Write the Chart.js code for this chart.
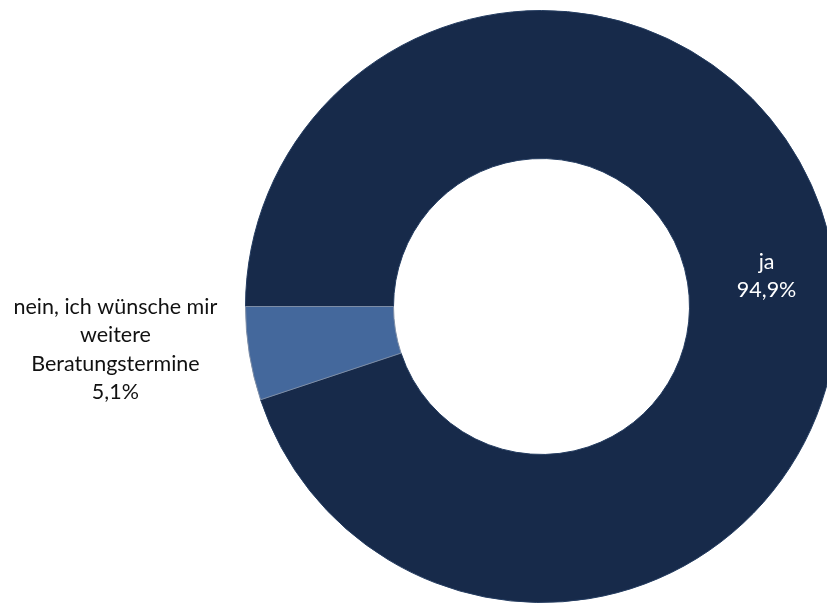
<!DOCTYPE html>
<html lang="de">
<head>
<meta charset="utf-8">
<title>Weitere Beratungstermine</title>
<script src="https://cdn.jsdelivr.net/npm/chart.js@4.4.1/dist/chart.umd.min.js"></script>
<style>
  html, body { margin: 0; padding: 0; background: #fff; overflow: hidden; }
  #wrap { position: relative; width: 860px; height: 606px; }
</style>
</head>
<body>
<div id="wrap"><canvas id="chart"></canvas></div>
<script>
// answer categories (multi-line labels) and their shares in percent
const categories = [
  ["ja"],
  ["nein, ich wünsche mir", "weitere", "Beratungstermine"]
];
const shares = [94.9, 5.1];
const sliceColors = ["#172a4a", "#44689c"];
const edgeColors = ["#2e4b74", "#6f8fbf"];

const fmtPct = (v) => v.toFixed(1).replace(".", ",") + "%";

// ring fill with a light bevel on the inner and outer rim
function ringFill(ctx) {
  const chart = ctx.chart;
  const arc = chart.getDatasetMeta(0).data[ctx.dataIndex];
  if (!arc || !arc.outerRadius) return sliceColors[ctx.dataIndex];
  const { x, y, innerRadius, outerRadius } = arc.getProps(["x", "y", "innerRadius", "outerRadius"], true);
  const g = chart.ctx.createRadialGradient(x, y, innerRadius, x, y, outerRadius);
  const base = sliceColors[ctx.dataIndex];
  const edge = edgeColors[ctx.dataIndex];
  g.addColorStop(0, edge);
  g.addColorStop(0.05, base);
  g.addColorStop(0.95, base);
  g.addColorStop(1, edge);
  return g;
}

const sliceLabels = {
  id: "sliceLabels",
  afterDatasetsDraw(chart) {
    const { ctx } = chart;
    const meta = chart.getDatasetMeta(0);
    ctx.save();
    ctx.font = "21.5px Lato, 'Open Sans', sans-serif";
    ctx.textBaseline = "middle";
    ctx.textAlign = "center";
    const lineH = 28.5;
    meta.data.forEach((arc, i) => {
      const p = arc.getProps(["x", "y", "startAngle", "endAngle", "innerRadius", "outerRadius"], true);
      const mid = (p.startAngle + p.endAngle) / 2;
      const lines = categories[i].concat([fmtPct(shares[i])]);
      const blockH = (lines.length - 1) * lineH;
      let cx, cy;
      if (i === 0) {
        // inside the ring
        const r = (p.innerRadius + p.outerRadius) / 2 + 6;
        cx = p.x + Math.cos(mid) * r;
        cy = p.y + Math.sin(mid) * r + 6;
        ctx.fillStyle = "#ffffff";
      } else {
        // outside the ring, right edge of the text block next to the slice
        const ox = p.x + Math.cos(mid) * p.outerRadius;
        const oy = p.y + Math.sin(mid) * p.outerRadius;
        const w = Math.max(...lines.map((l) => ctx.measureText(l).width));
        cx = ox - 32 - w / 2;
        cy = oy - 4;
        ctx.fillStyle = "#111111";
      }
      lines.forEach((l, k) => {
        ctx.fillText(l, cx, cy - blockH / 2 + k * lineH);
      });
    });
    ctx.restore();
  }
};

new Chart(document.getElementById("chart"), {
  type: "doughnut",
  data: {
    labels: categories.map((c) => c.join(" ")),
    datasets: [{
      data: shares,
      backgroundColor: ringFill,
      borderColor: ["#243c60", "#7d8da6"],
      borderWidth: 1,
      hoverOffset: 0
    }]
  },
  options: {
    responsive: true,
    maintainAspectRatio: false,
    animation: false,
    rotation: -90,
    cutout: "50%",
    layout: { padding: { top: 10, bottom: 3, left: 245, right: 22 } },
    plugins: {
      legend: { display: false },
      tooltip: { enabled: false }
    }
  },
  plugins: [sliceLabels]
});
</script>
</body>
</html>
